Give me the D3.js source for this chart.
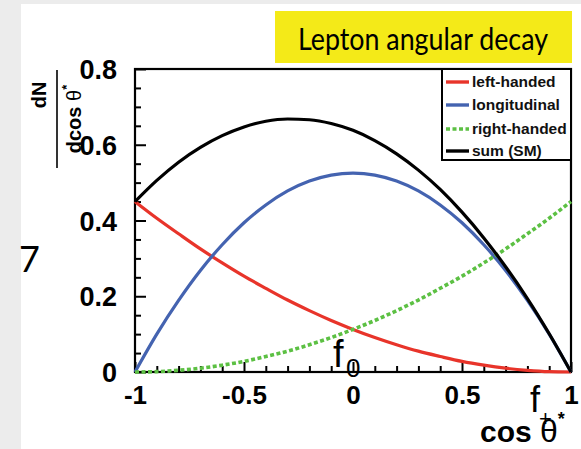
<!DOCTYPE html>
<html><head><meta charset="utf-8">
<script src="https://cdn.jsdelivr.net/npm/d3@7"></script>
<style>html,body{margin:0;padding:0;background:#fff;}svg{display:block;}</style>
</head><body>
<script>
// ---- data ----
const cosTheta = [-1,-0.9,-0.8,-0.7,-0.6,-0.5,-0.4,-0.3,-0.2,-0.1,0,0.1,0.2,0.3,0.4,0.5,0.6,0.7,0.8,0.9,1];
const leftHanded = [0.45,0.406,0.365,0.325,0.288,0.253,0.221,0.190,0.162,0.136,0.1125,0.091,0.072,0.055,0.041,0.028,0.018,0.010,0.0045,0.001,0];
const longitudinal = [0,0.100,0.189,0.268,0.336,0.394,0.441,0.478,0.504,0.520,0.525,0.520,0.504,0.478,0.441,0.394,0.336,0.268,0.189,0.100,0];
const rightHanded = [0,0.001,0.0045,0.010,0.018,0.028,0.041,0.055,0.072,0.091,0.1125,0.136,0.162,0.190,0.221,0.253,0.288,0.325,0.365,0.406,0.45];
const sumSM = [0.45,0.506,0.554,0.593,0.624,0.647,0.662,0.668,0.666,0.656,0.638,0.611,0.576,0.533,0.482,0.422,0.354,0.278,0.194,0.101,0];
const xTicks = [-1,-0.5,0,0.5,1];
const xTickLabels = ["-1","-0.5","0","0.5","1"];
const yTicks = [0,0.2,0.4,0.6,0.8];
const yTickLabels = ["0","0.2","0.4","0.6","0.8"];
const seriesNames = ["left-handed","longitudinal","right-handed","sum (SM)"];
const titleText = "Lepton angular decay";

const W = 581, H = 449;
const svg = d3.select("body").append("svg").attr("width", W).attr("height", H);

// background
svg.append("rect").attr("width", W).attr("height", H).attr("fill", "#ececec");
svg.append("rect").attr("x", 21).attr("y", 4).attr("width", W-21).attr("height", H-4).attr("fill", "#fff");

const L = 135, R = 571, T = 69, B = 372;
const x = d3.scaleLinear().domain([-1, 1]).range([L, R]);
const y = d3.scaleLinear().domain([0, 0.8]).range([B, T]);

// frame
svg.append("rect").attr("x", L).attr("y", T).attr("width", R-L).attr("height", B-T)
  .attr("fill", "none").attr("stroke", "#000").attr("stroke-width", 2.2);

// axes with inward ticks
const xMinor = d3.range(-10, 11).map(d => d/10).filter(v => !xTicks.some(t => Math.abs(t-v) < 1e-9));
const yMinor = d3.range(0, 17).map(d => d*0.05).filter(v => !yTicks.some(t => Math.abs(t-v) < 1e-9));
const xAxis = d3.axisBottom(x).tickValues(xTicks).tickSizeInner(-10).tickSizeOuter(0).tickFormat((d,i) => xTickLabels[i]).tickPadding(14);
const gx = svg.append("g").attr("transform", `translate(0,${B})`).call(xAxis);
svg.append("g").attr("transform", `translate(0,${B})`).call(d3.axisBottom(x).tickValues(xMinor).tickSizeInner(-6).tickSizeOuter(0).tickFormat(""));
const yAxis = d3.axisLeft(y).tickValues(yTicks).tickSizeInner(-11).tickSizeOuter(0).tickFormat((d,i) => yTickLabels[i]).tickPadding(18);
const gy = svg.append("g").attr("transform", `translate(${L},0)`).call(yAxis);
svg.append("g").attr("transform", `translate(${L},0)`).call(d3.axisLeft(y).tickValues(yMinor).tickSizeInner(-6).tickSizeOuter(0).tickFormat(""));
svg.selectAll(".domain").remove();
svg.selectAll(".tick line").attr("stroke", "#000").attr("stroke-width", 2);
gx.selectAll("text").attr("font-family", "Liberation Sans, Arial, sans-serif").attr("font-weight", "bold").attr("font-size", 26).attr("fill", "#000").attr("dy", "0.71em");
gy.selectAll("text").attr("font-family", "Liberation Sans, Arial, sans-serif").attr("font-weight", "bold").attr("font-size", 27).attr("fill", "#000").attr("dy", "0.36em");

// curves
const line = d3.line().x(d => x(d[0])).y(d => y(d[1])).curve(d3.curveMonotoneX);
const colors = ["#e8342a", "#4463b0", "#5cc043", "#000000"];
const series = [leftHanded, longitudinal, rightHanded, sumSM];
const plot = svg.append("g");
series.forEach((s, i) => {
  const p = plot.append("path").datum(cosTheta.map((c, j) => [c, s[j]]))
    .attr("d", line).attr("fill", "none").attr("stroke", colors[i]).attr("stroke-width", 3.2);
  if (i === 2) p.attr("stroke-dasharray", "4,2.5").attr("stroke-width", 3.6);
});

// legend
const lg = svg.append("g");
lg.append("rect").attr("x", 442).attr("y", 69).attr("width", 129).attr("height", 91)
  .attr("fill", "#fff").attr("stroke", "#000").attr("stroke-width", 2);
const rowY = [82, 105, 129, 151];
seriesNames.forEach((n, i) => {
  const ln = lg.append("line").attr("x1", 446).attr("x2", 469).attr("y1", rowY[i]).attr("y2", rowY[i])
    .attr("stroke", colors[i]).attr("stroke-width", 3.4);
  if (i === 2) ln.attr("stroke-dasharray", "4,2.5");
  lg.append("text").attr("x", 472).attr("y", rowY[i]).attr("dy", "0.35em")
    .attr("font-family", "Liberation Sans, Arial, sans-serif").attr("font-weight", "bold").attr("font-size", 15.5)
    .attr("fill", "#111").text(n);
});

// title box
svg.append("rect").attr("x", 275).attr("y", 11).attr("width", 297).attr("height", 52).attr("fill", "#f4ea18");
svg.append("text").attr("x", 298).attr("y", 50).attr("textLength", 250).attr("lengthAdjust", "spacingAndGlyphs")
  .attr("font-family", "Lato, 'Open Sans', sans-serif").attr("font-size", 30).attr("fill", "#000").text(titleText);

// y axis title (fraction, rotated)
const yt = svg.append("g").attr("font-family", "Liberation Sans, Arial, sans-serif").attr("font-weight", "bold").attr("fill", "#000");
yt.append("text").attr("transform", "translate(46,95) rotate(-90)").attr("text-anchor", "middle").attr("font-size", 20).text("dN");
yt.append("line").attr("x1", 57).attr("x2", 57).attr("y1", 70).attr("y2", 168).attr("stroke", "#000").attr("stroke-width", 1.6);
const den = yt.append("text").attr("transform", "translate(81,119) rotate(-90)").attr("text-anchor", "middle").attr("font-size", 20);
den.append("tspan").text("dcos ");
den.append("tspan").attr("font-weight", "normal").text("θ");
den.append("tspan").attr("font-size", 13).attr("dy", -10).text("*");

// x axis title
const xt = svg.append("text").attr("x", 480).attr("y", 442).attr("font-family", "Liberation Sans, Arial, sans-serif").attr("fill", "#000");
xt.append("tspan").attr("font-weight", "bold").attr("font-size", 30).text("cos ");
xt.append("tspan").attr("font-size", 32).text("θ");
xt.append("tspan").attr("font-weight", "bold").attr("font-size", 18).attr("dy", -17).text("*");

// annotations
const ann = svg.append("g").attr("font-family", "Liberation Sans, Arial, sans-serif").attr("fill", "#000");
ann.append("text").attr("x", 333).attr("y", 367).attr("font-size", 38).text("f");
ann.append("text").attr("x", 346).attr("y", 377).attr("font-size", 26).text("0");
ann.append("text").attr("x", 530).attr("y", 412).attr("font-size", 36).text("f");
ann.append("text").attr("x", 539).attr("y", 426).attr("font-size", 22).text("+");
svg.append("text").attr("x", 19).attr("y", 272).attr("font-family", "Lato, sans-serif").attr("font-size", 36).attr("fill", "#000").text("7");
</script>
</body></html>
